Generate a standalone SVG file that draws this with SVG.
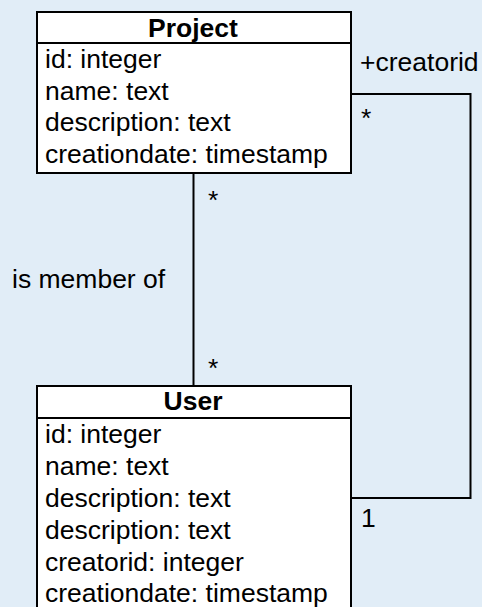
<svg xmlns="http://www.w3.org/2000/svg" width="482" height="607" viewBox="0 0 482 607">
<style>
.bg{fill:#e1edf7}
.box{fill:#ffffff;stroke:#000000;stroke-width:2}
.sep{stroke:#000000;stroke-width:2}
.conn{fill:none;stroke:#000000;stroke-width:2}
text{font-family:"Liberation Sans",Arial,Helvetica,sans-serif;font-size:26.5px;fill:#000000}
.title{font-weight:bold;text-anchor:middle}
</style>
<rect class="bg" x="0" y="0" width="482" height="607"/>
<g id="connectors">
<path class="conn" d="M193.5 173 V386"/>
<path class="conn" d="M351 94 H470.5 V498 H351"/>
<text x="208" y="209">*</text>
<text x="208" y="377">*</text>
<text x="12" y="288">is member of</text>
<text x="360" y="71">+creatorid</text>
<text x="361" y="127">*</text>
<text x="361" y="527">1</text>
</g>
<g id="project">
<rect class="box" x="37" y="12" width="314" height="161"/>
<line class="sep" x1="37" y1="43" x2="351" y2="43"/>
<text class="title" x="193" y="37">Project</text>
<text x="45" y="68">id: integer</text>
<text x="45" y="100">name: text</text>
<text x="45" y="131">description: text</text>
<text x="45" y="163">creationdate: timestamp</text>
</g>
<g id="user">
<rect class="box" x="37" y="386" width="314" height="230"/>
<line class="sep" x1="37" y1="418" x2="351" y2="418"/>
<text class="title" x="193" y="410">User</text>
<text x="45" y="443">id: integer</text>
<text x="45" y="475">name: text</text>
<text x="45" y="507">description: text</text>
<text x="45" y="539">description: text</text>
<text x="45" y="571">creatorid: integer</text>
<text x="45" y="602">creationdate: timestamp</text>
</g>
</svg>
